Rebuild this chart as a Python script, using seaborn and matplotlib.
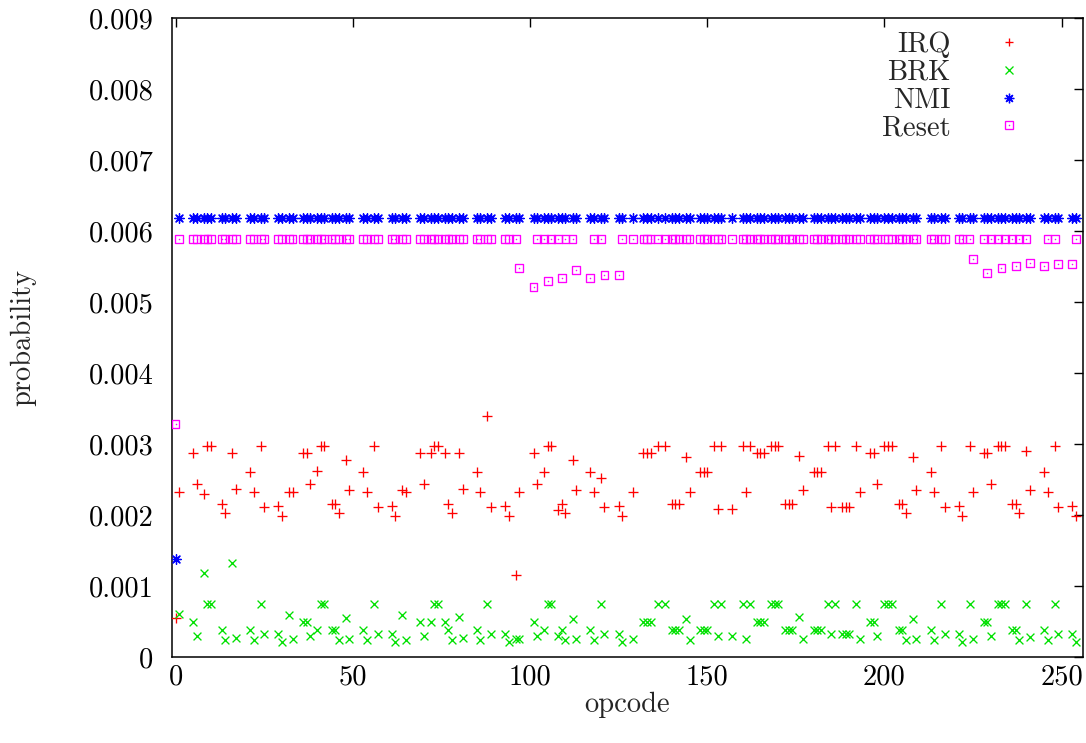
import numpy as np
import pandas as pd
import matplotlib
matplotlib.use("Agg")
import matplotlib.pyplot as plt
import seaborn as sns
from matplotlib.lines import Line2D
from matplotlib.ticker import MultipleLocator, FormatStrFormatter, FuncFormatter

# Documented 6502 opcodes (one line per high nibble)
opcodes = [
    0x00, 0x01, 0x05, 0x06, 0x08, 0x09, 0x0A, 0x0D, 0x0E,
    0x10, 0x11, 0x15, 0x16, 0x18, 0x19, 0x1D, 0x1E,
    0x20, 0x21, 0x24, 0x25, 0x26, 0x28, 0x29, 0x2A, 0x2C, 0x2D, 0x2E,
    0x30, 0x31, 0x35, 0x36, 0x38, 0x39, 0x3D, 0x3E,
    0x40, 0x41, 0x45, 0x46, 0x48, 0x49, 0x4A, 0x4C, 0x4D, 0x4E,
    0x50, 0x51, 0x55, 0x56, 0x58, 0x59, 0x5D, 0x5E,
    0x60, 0x61, 0x65, 0x66, 0x68, 0x69, 0x6A, 0x6C, 0x6D, 0x6E,
    0x70, 0x71, 0x75, 0x76, 0x78, 0x79, 0x7D, 0x7E,
    0x81, 0x84, 0x85, 0x86, 0x88, 0x8A, 0x8C, 0x8D, 0x8E,
    0x90, 0x91, 0x94, 0x95, 0x96, 0x98, 0x99, 0x9A, 0x9D,
    0xA0, 0xA1, 0xA2, 0xA4, 0xA5, 0xA6, 0xA8, 0xA9, 0xAA, 0xAC, 0xAD, 0xAE,
    0xB0, 0xB1, 0xB4, 0xB5, 0xB6, 0xB8, 0xB9, 0xBA, 0xBC, 0xBD, 0xBE,
    0xC0, 0xC1, 0xC4, 0xC5, 0xC6, 0xC8, 0xC9, 0xCA, 0xCC, 0xCD, 0xCE,
    0xD0, 0xD1, 0xD5, 0xD6, 0xD8, 0xD9, 0xDD, 0xDE,
    0xE0, 0xE1, 0xE4, 0xE5, 0xE6, 0xE8, 0xE9, 0xEA, 0xEC, 0xED, 0xEE,
    0xF0, 0xF1, 0xF5, 0xF6, 0xF8, 0xF9, 0xFD, 0xFE,
]

irq = [
    .00055, .00232, .00288, .00244, .00229, .00297, .00297, .00216, .00203,
    .00287, .00237, .00260, .00232, .00297, .00211, .00212, .00198,
    .00232, .00232, .00288, .00288, .00244, .00262, .00297, .00297, .00216, .00216, .00203,
    .00278, .00235, .00260, .00232, .00297, .00211, .00212, .00198,
    .00235, .00232, .00288, .00244, .00288, .00297, .00297, .00287, .00216, .00203,
    .00287, .00237, .00260, .00232, .00340, .00211, .00212, .00198,
    .00115, .00232, .00288, .00244, .00260, .00297, .00297, .00207, .00216, .00203,
    .00278, .00235, .00260, .00232, .00252, .00211, .00212, .00198,
    .00232, .00288, .00288, .00288, .00297, .00297, .00216, .00216, .00216,
    .00282, .00232, .00260, .00260, .00260, .00297, .00208, .00297, .00208,
    .00297, .00232, .00297, .00288, .00288, .00288, .00297, .00297, .00297, .00216, .00216, .00216,
    .00283, .00235, .00260, .00260, .00260, .00297, .00211, .00297, .00211, .00211, .00211,
    .00297, .00232, .00288, .00288, .00244, .00297, .00297, .00297, .00216, .00216, .00203,
    .00282, .00235, .00260, .00232, .00297, .00211, .00212, .00198,
    .00297, .00232, .00288, .00288, .00244, .00297, .00297, .00297, .00216, .00216, .00203,
    .00290, .00235, .00260, .00232, .00297, .00211, .00212, .00198,
]

brk = [
    np.nan, .00061, .00049, .00029, .00118, .00074, .00074, .000375, .000244,
    .00132, .000263, .000375, .000244, .00074, .000328, .000328, .00021,
    .000586, .000254, .00049, .00049, .00029, .000375, .00074, .00074, .000375, .000375, .000244,
    .00055, .000258, .000375, .000244, .00074, .000328, .000328, .00021,
    .000586, .000244, .00049, .00029, .00049, .00074, .00074, .00049, .000375, .000244,
    .000563, .000263, .000375, .000244, .00074, .000328, .000328, .00021,
    .000254, .000254, .00049, .00029, .000375, .00074, .00074, .00030, .000375, .000244,
    .000535, .000258, .000375, .000244, .00074, .000328, .000328, .00021,
    .000254, .00049, .00049, .00049, .00074, .00074, .000375, .000375, .000375,
    .000535, .000244, .000375, .000375, .000375, .00074, .00029, .00074, .00029,
    .00074, .000254, .00074, .00049, .00049, .00049, .00074, .00074, .00074, .000375, .000375, .000375,
    .000563, .000258, .000375, .000375, .000375, .00074, .000328, .00074, .000328, .000328, .000328,
    .00074, .000254, .00049, .00049, .00029, .00074, .00074, .00074, .000375, .000375, .000244,
    .000535, .000258, .000375, .000244, .00074, .000328, .000328, .00021,
    .00074, .000254, .00049, .00049, .00029, .00074, .00074, .00074, .000375, .000375, .000244,
    .00074, .00028, .000375, .000244, .00074, .000328, .000328, .00021,
]

nmi = [
    .00138, .00618, .00618, .00618, .00618, .00618, .00618, .00618, .00618,
    .00618, .00618, .00618, .00618, .00618, .00618, .00618, .00618,
    .00618, .00618, .00618, .00618, .00618, .00618, .00618, .00618, .00618, .00618, .00618,
    .00618, .00618, .00618, .00618, .00618, .00618, .00618, .00618,
    .00618, .00618, .00618, .00618, .00618, .00618, .00618, .00618, .00618, .00618,
    .00618, .00618, .00618, .00618, .00618, .00618, .00618, .00618,
    .00618, .00618, .00618, .00618, .00618, .00618, .00618, .00618, .00618, .00618,
    .00618, .00618, .00618, .00618, .00618, .00618, .00618, .00618,
    .00618, .00618, .00618, .00618, .00618, .00618, .00618, .00618, .00618,
    .00618, .00618, .00618, .00618, .00618, .00618, .00618, .00618, .00618,
    .00618, .00618, .00618, .00618, .00618, .00618, .00618, .00618, .00618, .00618, .00618, .00618,
    .00618, .00618, .00618, .00618, .00618, .00618, .00618, .00618, .00618, .00618, .00618,
    .00618, .00618, .00618, .00618, .00618, .00618, .00618, .00618, .00618, .00618, .00618,
    .00618, .00618, .00618, .00618, .00618, .00618, .00618, .00618,
    .00618, .00618, .00618, .00618, .00618, .00618, .00618, .00618, .00618, .00618, .00618,
    .00618, .00618, .00618, .00618, .00618, .00618, .00618, .00618,
]

reset = [
    .00328, .00589, .00589, .00589, .00589, .00589, .00589, .00589, .00589,
    .00589, .00589, .00589, .00589, .00589, .00589, .00589, .00589,
    .00589, .00589, .00589, .00589, .00589, .00589, .00589, .00589, .00589, .00589, .00589,
    .00589, .00589, .00589, .00589, .00589, .00589, .00589, .00589,
    .00589, .00589, .00589, .00589, .00589, .00589, .00589, .00589, .00589, .00589,
    .00589, .00589, .00589, .00589, .00589, .00589, .00589, .00589,
    .00589, .00548, .00521, .00589, .00589, .00530, .00589, .00589, .00534, .00589,
    .00589, .00545, .00534, .00589, .00589, .00538, .00538, .00589,
    .00589, .00589, .00589, .00589, .00589, .00589, .00589, .00589, .00589,
    .00589, .00589, .00589, .00589, .00589, .00589, .00589, .00589, .00589,
    .00589, .00589, .00589, .00589, .00589, .00589, .00589, .00589, .00589, .00589, .00589, .00589,
    .00589, .00589, .00589, .00589, .00589, .00589, .00589, .00589, .00589, .00589, .00589,
    .00589, .00589, .00589, .00589, .00589, .00589, .00589, .00589, .00589, .00589, .00589,
    .00589, .00589, .00589, .00589, .00589, .00589, .00589, .00589,
    .00589, .00560, .00589, .00541, .00589, .00589, .00548, .00589, .00589, .00551, .00589,
    .00589, .00555, .00551, .00589, .00589, .00554, .00554, .00589,
]

series_names = ["IRQ", "BRK", "NMI", "Reset"]
colors = {"IRQ": "#ff0000", "BRK": "#00e000", "NMI": "#0000ff", "Reset": "#ff00ff"}

df = pd.DataFrame({"opcode": opcodes, "IRQ": irq, "BRK": brk,
                   "NMI": nmi, "Reset": reset})

sns.set_theme(style="white")
plt.rcParams["font.family"] = ["cmr10", "DejaVu Serif"]
plt.rcParams["mathtext.fontset"] = "cm"
plt.rcParams["axes.formatter.use_mathtext"] = True
plt.rcParams["axes.unicode_minus"] = False

FS = 20.5
fig = plt.figure(figsize=(10.86, 7.43), dpi=100)
ax = fig.add_axes([172 / 1086, 1 - 657 / 743, 911 / 1086, 639 / 743])

lw = 0.95
sns.scatterplot(data=df, x="opcode", y="IRQ", marker="+", s=42,
                color=colors["IRQ"], linewidth=lw, ax=ax, zorder=3)
sns.scatterplot(data=df, x="opcode", y="BRK", marker="x", s=32,
                color=colors["BRK"], linewidth=lw, ax=ax, zorder=3)
sns.scatterplot(data=df, x="opcode", y="NMI", marker=(8, 2, 0), s=48,
                color=colors["NMI"], linewidth=lw, ax=ax, zorder=3)
sns.scatterplot(data=df, x="opcode", y="Reset", marker="s", s=32,
                facecolor="none", edgecolor=colors["Reset"], linewidth=lw,
                ax=ax, zorder=3)
sns.scatterplot(data=df, x="opcode", y="Reset", marker="o", s=1.2,
                color=colors["Reset"], linewidth=0, ax=ax, zorder=3)

ax.set_xlim(-1, 256)
ax.set_ylim(0, 0.009)
ax.xaxis.set_major_locator(MultipleLocator(50))
ax.yaxis.set_major_locator(MultipleLocator(0.001))
ax.xaxis.set_major_formatter(FormatStrFormatter("%d"))
ax.yaxis.set_major_formatter(
    FuncFormatter(lambda v, pos: "0" if abs(v) < 1e-12 else f"{v:.3f}"))
ax.tick_params(axis="both", direction="in", top=True, right=True,
               length=6.5, width=1.0, labelsize=FS, colors="black")
ax.tick_params(axis="y", pad=13.5)
ax.tick_params(axis="x", pad=5)
for sp in ax.spines.values():
    sp.set_color("black")
    sp.set_linewidth(1.1)

ax.set_xlabel("opcode", fontsize=FS)
ax.set_ylabel("probability", fontsize=FS)
ax.xaxis.set_label_coords(0.5, -0.054)
ax.yaxis.set_label_coords(-0.149, 0.5)

handles = [
    Line2D([], [], ls="none", marker="+", ms=6.4, mew=lw, color=colors["IRQ"]),
    Line2D([], [], ls="none", marker="x", ms=5.6, mew=lw, color=colors["BRK"]),
    Line2D([], [], ls="none", marker=(8, 2, 0), ms=6.9, mew=lw, color=colors["NMI"]),
    (Line2D([], [], ls="none", marker="s", ms=5.6, mew=lw, mfc="none",
            mec=colors["Reset"]),
     Line2D([], [], ls="none", marker="o", ms=1.1, mew=0, color=colors["Reset"])),
]
ax.legend(handles, series_names, loc="upper right", markerfirst=False,
          frameon=False, fontsize=FS, handlelength=2.0, handletextpad=1.05,
          labelspacing=0.05, borderaxespad=1.2, borderpad=0.4,
          bbox_to_anchor=(1.0, 1.0 + 32 / 639))

fig.savefig("out.png", dpi=100)
